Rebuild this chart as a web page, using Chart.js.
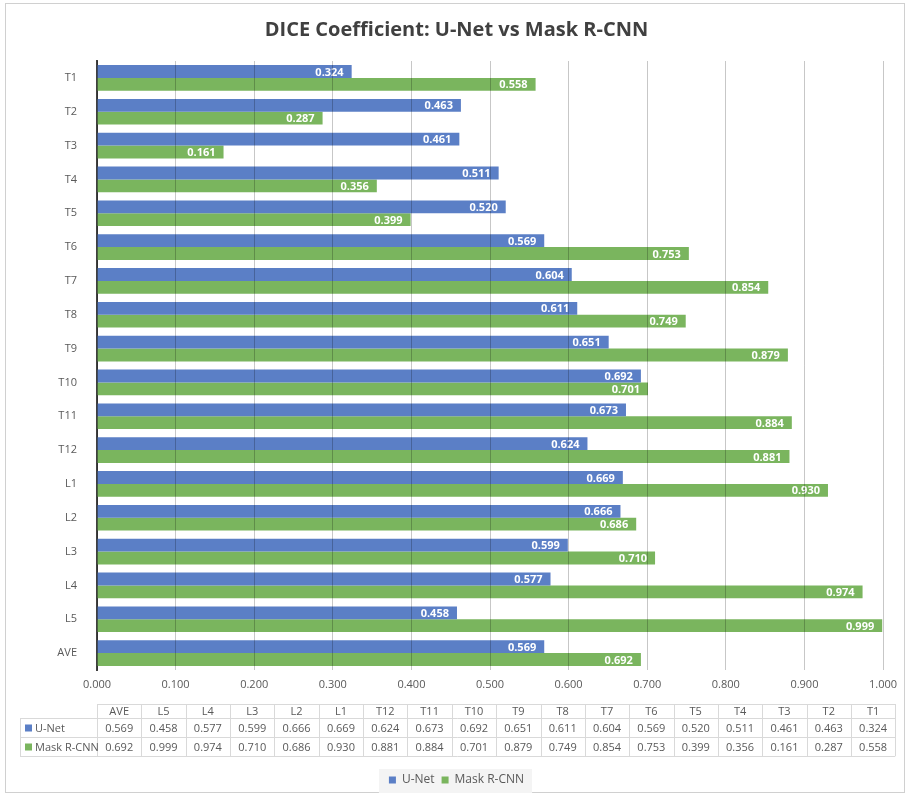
<!DOCTYPE html>
<html>
<head>
<meta charset="utf-8">
<script src="https://cdn.jsdelivr.net/npm/chart.js@4"></script>
<style>
  html, body { margin: 0; padding: 0; background: #fff; }
  #wrap { position: relative; width: 907px; height: 796px; }
</style>
</head>
<body>
<div id="wrap"><canvas id="diceChart"></canvas></div>
<script>
/* ===== DATA ===== */
const categories = ['T1', 'T2', 'T3', 'T4', 'T5', 'T6', 'T7', 'T8', 'T9', 'T10', 'T11', 'T12', 'L1', 'L2', 'L3', 'L4', 'L5', 'AVE'];
const unet = [0.324, 0.463, 0.461, 0.511, 0.520, 0.569, 0.604, 0.611, 0.651, 0.692, 0.673, 0.624, 0.669, 0.666, 0.599, 0.577, 0.458, 0.569];
const maskrcnn = [0.558, 0.287, 0.161, 0.356, 0.399, 0.753, 0.854, 0.749, 0.879, 0.701, 0.884, 0.881, 0.930, 0.686, 0.710, 0.974, 0.999, 0.692];
const xTicks = [0, 0.1, 0.2, 0.3, 0.4, 0.5, 0.6, 0.7, 0.8, 0.9, 1.0];

const BLUE = '#5b7fc6';
const GREEN = '#7ab55e';
const TEXT = '#595959';
const FONT = "'Open Sans', 'Noto Sans', sans-serif";

/* ===== PLUGINS ===== */
// outer frame
const framePlugin = {
  id: 'frame',
  beforeDraw(chart) {
    const c = chart.ctx;
    c.save();
    c.fillStyle = '#fff';
    c.fillRect(0, 0, chart.width, chart.height);
    c.strokeStyle = '#d0d0d0';
    c.lineWidth = 1;
    c.strokeRect(5.5, 3.5, chart.width - 8, chart.height - 7);
    c.restore();
  }
};

// value labels inside bar ends
const barLabels = {
  id: 'barLabels',
  afterDatasetsDraw(chart) {
    const c = chart.ctx;
    c.save();
    c.font = "bold 11px " + FONT;
    c.fillStyle = '#fff';
    c.textAlign = 'right';
    c.textBaseline = 'middle';
    chart.data.datasets.forEach((ds, di) => {
      chart.getDatasetMeta(di).data.forEach((bar, i) => {
        c.fillText(ds.data[i].toFixed(3), bar.x - 8, bar.y + 1);
      });
    });
    c.restore();
  }
};

// data table under the axis (Excel style)
const dataTable = {
  id: 'dataTable',
  afterDraw(chart) {
    const c = chart.ctx;
    const left = chart.chartArea.left;
    const colW = 44.35;
    const legendLeft = 20;
    const rows = [704, 718, 737, 756];
    const cols = categories.slice().reverse();
    const series = [
      { name: 'U-Net', color: BLUE, vals: unet.slice().reverse() },
      { name: 'Mask R-CNN', color: GREEN, vals: maskrcnn.slice().reverse() }
    ];
    const right = left + colW * cols.length;
    c.save();
    c.strokeStyle = '#d9d9d9';
    c.lineWidth = 1;
    c.beginPath();
    c.moveTo(left, rows[0] + 0.5); c.lineTo(right, rows[0] + 0.5);
    for (let r = 1; r < rows.length; r++) {
      c.moveTo(legendLeft, rows[r] + 0.5); c.lineTo(right, rows[r] + 0.5);
    }
    c.moveTo(legendLeft + 0.5, rows[1]); c.lineTo(legendLeft + 0.5, rows[3]);
    for (let k = 0; k <= cols.length; k++) {
      const x = Math.round(left + k * colW) + 0.5;
      c.moveTo(x, rows[0]); c.lineTo(x, rows[3]);
    }
    c.stroke();

    c.font = "11px " + FONT;
    c.fillStyle = TEXT;
    c.textAlign = 'center';
    c.textBaseline = 'middle';
    cols.forEach((lab, k) => c.fillText(lab, left + (k + 0.5) * colW, (rows[0] + rows[1]) / 2 + 1));
    series.forEach((s, r) => {
      const cy = (rows[r + 1] + rows[r + 2]) / 2 + 1;
      s.vals.forEach((v, k) => {
        c.fillStyle = TEXT;
        c.fillText(v.toFixed(3), left + (k + 0.5) * colW, cy);
      });
      c.fillStyle = s.color;
      c.fillRect(legendLeft + 5, cy - 4, 7, 7);
      c.fillStyle = TEXT;
      c.textAlign = 'left';
      c.fillText(s.name, legendLeft + 15, cy);
      c.textAlign = 'center';
    });
    c.restore();
  }
};

// light background behind the legend
const legendBg = {
  id: 'legendBg',
  beforeDraw(chart) {
    const lg = chart.legend;
    if (!lg || !lg.legendItems) return;
    const hb = lg.legendHitBoxes;
    if (!hb || !hb.length) return;
    const x0 = hb[0].left - 10;
    const x1 = hb[hb.length - 1].left + hb[hb.length - 1].width + 8;
    const c = chart.ctx;
    c.save();
    c.fillStyle = '#f4f4f4';
    c.fillRect(x0, hb[0].top - 5, x1 - x0, 24);
    c.restore();
  }
};

/* ===== CHART ===== */
new Chart(document.getElementById('diceChart'), {
  type: 'bar',
  data: {
    labels: categories,
    datasets: [
      { label: 'U-Net', data: unet, backgroundColor: BLUE, borderWidth: 0 },
      { label: 'Mask R-CNN', data: maskrcnn, backgroundColor: GREEN, borderWidth: 0 }
    ]
  },
  options: {
    indexAxis: 'y',
    responsive: true,
    maintainAspectRatio: false,
    animation: false,
    devicePixelRatio: 1,
    categoryPercentage: 0.76,
    barPercentage: 1.0,
    layout: { padding: { left: 30, right: 24, top: 0, bottom: 0 } },
    scales: {
      x: {
        min: 0,
        max: 1,
        afterBuildTicks: s => { s.ticks = xTicks.map(v => ({ value: v })); },
        afterFit: s => { s.height = 97; },
        ticks: {
          callback: v => Number(v).toFixed(3),
          color: TEXT,
          font: { family: FONT, size: 11 },
          padding: 8,
          maxRotation: 0
        },
        grid: { color: 'rgba(0,0,0,0.22)', drawTicks: false, z: 1 },
        border: { display: false }
      },
      y: {
        afterFit: s => { s.width = 67; },
        ticks: {
          color: TEXT,
          font: { family: FONT, size: 11 },
          padding: 12
        },
        grid: { display: false },
        border: { display: true, color: '#404040', width: 2 }
      }
    },
    plugins: {
      title: {
        display: true,
        text: 'DICE Coefficient: U-Net vs Mask R-CNN',
        color: '#404040',
        font: { family: FONT, size: 20, weight: 'bold' },
        padding: { top: 18, bottom: 19 }
      },
      legend: {
        display: true,
        position: 'bottom',
        labels: {
          boxWidth: 7,
          boxHeight: 7,
          color: TEXT,
          font: { family: FONT, size: 12 },
          padding: 7
        }
      },
      tooltip: { enabled: false }
    }
  },
  plugins: [framePlugin, barLabels, dataTable, legendBg]
});
</script>
</body>
</html>
